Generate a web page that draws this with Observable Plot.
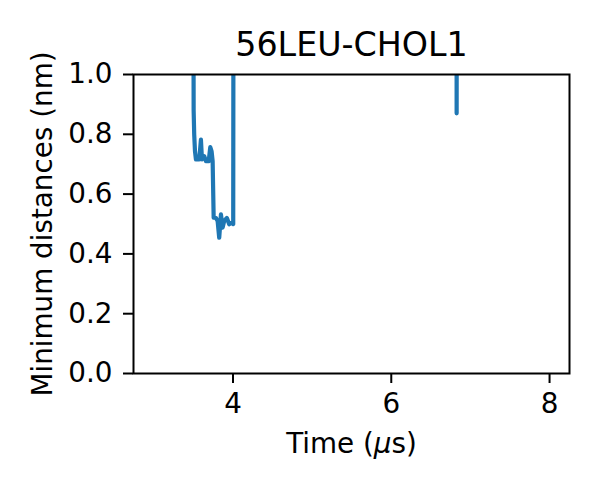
<!DOCTYPE html>
<html>
<head>
<meta charset="utf-8">
<script src="https://cdn.jsdelivr.net/npm/d3@7"></script>
<script src="https://cdn.jsdelivr.net/npm/@observablehq/plot@0.6"></script>
<style>
  html, body { margin: 0; padding: 0; background: #fff; }
</style>
</head>
<body>
<div id="chart"></div>
<script>
const title = "56LEU-CHOL1";
const xLabel = "Time (\u03bcs)";
const yLabel = "Minimum distances (nm)";
const xTicks = [4, 6, 8];
const yTicks = [0, 0.2, 0.4, 0.6, 0.8, 1.0];

// time (µs) and minimum distance (nm); values above 1 nm are clipped by the axes
const time = [3.500, 3.503, 3.510, 3.520, 3.532, 3.574, 3.595, 3.608, 3.637, 3.659, 3.693, 3.713, 3.730, 3.743, 3.756, 3.785, 3.806, 3.826, 3.848, 3.869, 3.889, 3.923, 3.952, 3.983, 4.003, 4.006, NaN, 6.825, 6.826, 6.827];
const distance = [1.3, 0.88, 0.80, 0.743, 0.716, 0.716, 0.782, 0.716, 0.727, 0.71, 0.71, 0.757, 0.743, 0.71, 0.521, 0.52, 0.51, 0.454, 0.532, 0.488, 0.51, 0.52, 0.499, 0.504, 0.50, 1.3, NaN, 1.3, 0.87, 1.3];

const data = time.map((t, i) => ({t, d: distance[i]}));

const chart = Plot.plot({
  width: 600,
  height: 500,
  marginLeft: 133,
  marginRight: 31,
  marginTop: 74,
  marginBottom: 127,
  style: {fontFamily: "DejaVu Sans", fontSize: "27.8px", background: "#fff", color: "#000"},
  x: {domain: [2.743, 8.252]},
  y: {domain: [0, 1]},
  marks: [
    Plot.line(data, {x: "t", y: "d", stroke: "#1f77b4", strokeWidth: 4.2, clip: true, strokeLinejoin: "round", strokeLinecap: "butt"}),
    Plot.frame({stroke: "#000", strokeWidth: 2}),
    Plot.axisX({ticks: xTicks, tickSize: 10, tickPadding: 10, fontSize: 27.8, strokeWidth: 2, label: null, tickFormat: d3.format("d")}),
    Plot.axisY({ticks: yTicks, tickSize: 10, tickPadding: 11, fontSize: 27.8, strokeWidth: 2, label: null, tickFormat: d3.format(".1f")}),
    Plot.text([title], {frameAnchor: "top", dy: -29.5, fontSize: 33.3, lineAnchor: "middle", textAnchor: "middle"}),
    Plot.text([xLabel], {frameAnchor: "bottom", dy: 70.6, fontSize: 27.8, lineAnchor: "middle", textAnchor: "middle", className: "xlabel"}),
    Plot.text([yLabel], {frameAnchor: "left", dx: -90, rotate: -90, fontSize: 27.8, lineAnchor: "middle", textAnchor: "middle"})
  ]
});
// italic mu as in the mathtext label
d3.select(chart).selectAll(".xlabel text").each(function() {
  const t = d3.select(this);
  const s = t.text();
  const i = s.indexOf("\u03bc");
  if (i >= 0) {
    t.text(null);
    t.append("tspan").text(s.slice(0, i));
    t.append("tspan").attr("font-style", "italic").text("\u03bc");
    t.append("tspan").text(s.slice(i + 1));
  }
});
document.getElementById("chart").appendChild(chart);
</script>
</body>
</html>
